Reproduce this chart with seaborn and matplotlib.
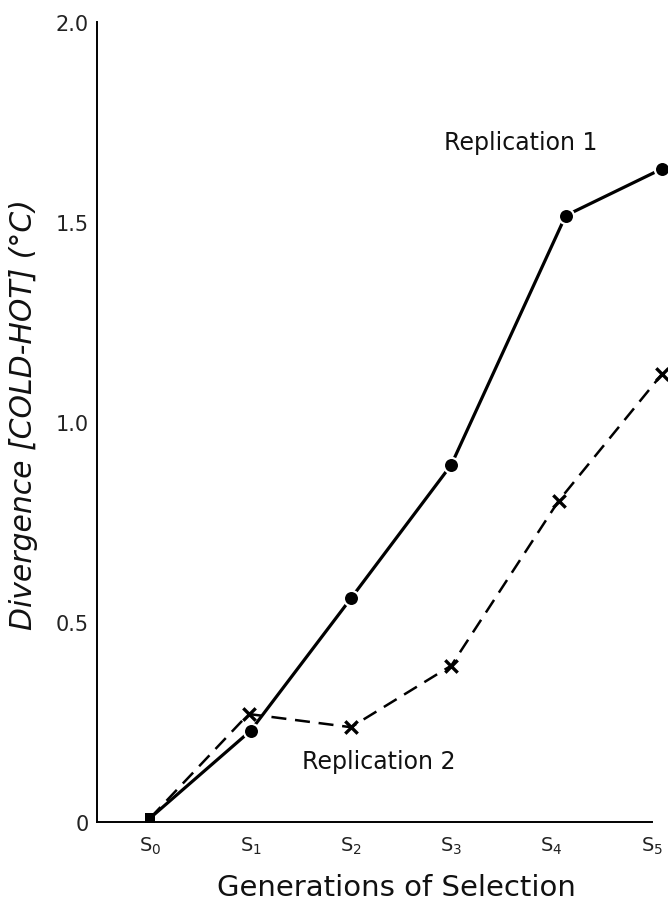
import matplotlib
matplotlib.use("Agg")
import matplotlib.pyplot as plt
import seaborn as sns
import pandas as pd
import numpy as np

# ---- data ----
generations = ["S$_0$", "S$_1$", "S$_2$", "S$_3$", "S$_4$", "S$_5$"]
gen_pos = [0, 1, 2, 3, 4, 5]
rep1_x = [0, 1, 2, 3, 4.14, 5.1]
rep1_y = [0.01, 0.228, 0.559, 0.893, 1.516, 1.633]
rep2_x = [0, 0.98, 2, 3, 4.07, 5.1]
rep2_y = [0.01, 0.27, 0.237, 0.391, 0.803, 1.12]
y_major = [0, 0.5, 1.0, 1.5, 2.0]
y_major_labels = ["0", "0.5", "1.0", "1.5", "2.0"]
y_minor = [0.25, 0.75, 1.25, 1.75]

sns.set_theme(style="white")
plt.rcParams["font.family"] = ["DejaVu Sans"]
plt.rcParams["mathtext.default"] = "regular"

df1 = pd.DataFrame({"x": rep1_x, "y": rep1_y})
df2 = pd.DataFrame({"x": rep2_x, "y": rep2_y})

fig = plt.figure(figsize=(6.68, 9.04), dpi=100)
ax = fig.add_axes([97 / 668, 1 - 823 / 904, 555 / 668, 800 / 904])

# lines
sns.lineplot(data=df2, x="x", y="y", ax=ax, color="black", lw=1.8,
             dashes=False, clip_on=False)
ax.lines[-1].set_dashes([6, 3.5])
sns.lineplot(data=df1, x="x", y="y", ax=ax, color="black", lw=2.3, clip_on=False)

# markers
sns.scatterplot(data=df1.iloc[1:], x="x", y="y", ax=ax, marker="o", s=120,
                color="black", edgecolor="white", linewidth=1.6, clip_on=False, zorder=5)
sns.scatterplot(data=df2.iloc[1:], x="x", y="y", ax=ax, marker="x", s=80,
                color="black", linewidth=2.4, clip_on=False, zorder=5)
sns.scatterplot(data=df1.iloc[:1], x="x", y="y", ax=ax, marker="s", s=60,
                color="black", edgecolor="black", linewidth=0, clip_on=False, zorder=6)

ax.set_xlim(-0.53, 5.0)
ax.set_ylim(0, 2.0)

for s in ["top", "right"]:
    ax.spines[s].set_visible(False)
for s in ["left", "bottom"]:
    ax.spines[s].set_color("black")
    ax.spines[s].set_linewidth(1.4)

ax.set_xticks(gen_pos)
ax.set_xticklabels(generations)
ax.set_yticks(y_major)
ax.set_yticklabels(y_major_labels)
ax.set_yticks(y_minor, minor=True)
ax.tick_params(axis="both", which="both", direction="in", length=7, width=1.3,
               color="black", labelcolor="#222222")
ax.tick_params(axis="y", which="major", labelsize=15, pad=6)
ax.tick_params(axis="x", which="major", labelsize=14, pad=9)

ax.set_xlabel("Generations of Selection", fontsize=21, color="#111111")
ax.xaxis.set_label_coords(0.54, -0.064)
ax.set_ylabel("Divergence [COLD-HOT] (°C)", fontsize=21.5, style="italic", color="#111111")
ax.yaxis.set_label_coords(-0.107, 0.511)

ax.text(2.93, 1.70, "Replication 1", fontsize=17, ha="left", va="center", color="#111111")
ax.text(1.51, 0.152, "Replication 2", fontsize=17, ha="left", va="center", color="#111111")

fig.savefig("out.png", dpi=100)
